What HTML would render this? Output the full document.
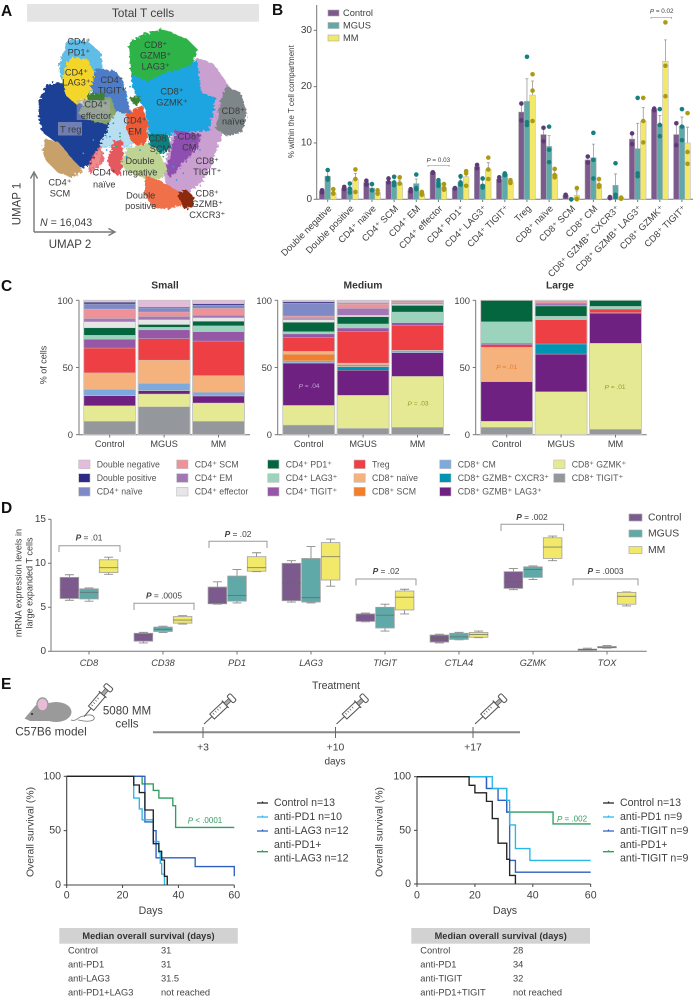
<!DOCTYPE html>
<html lang="en">
<head>
<meta charset="utf-8">
<title>T cell figure</title>
<style>
html,body{margin:0;padding:0;background:#fff}
svg{display:block;font-family:"Liberation Sans",sans-serif}
text{dominant-baseline:central;fill:#3f3f3f}
.pl{font-size:15.5px;font-weight:bold;fill:#111;dominant-baseline:auto}
.ul{font-size:9.2px;text-anchor:middle;fill:#3a3a3a}
.ttl{font-size:10.3px;font-weight:bold;text-anchor:middle;fill:#333}
.lg{font-size:8.75px;fill:#555}
.sv{font-size:10.6px;fill:#3f3f3f}
.tb{font-size:9.3px;fill:#444}
.tbh{font-size:9.2px;font-weight:bold;text-anchor:middle;fill:#333;letter-spacing:.05px}
</style>
</head>
<body>
<svg id="fig" xmlns="http://www.w3.org/2000/svg" width="695" height="999" viewBox="0 0 695 999">
<defs>
<filter id="rough" x="-10%" y="-10%" width="120%" height="120%">
<feTurbulence type="fractalNoise" baseFrequency="0.35" numOctaves="2" seed="4" result="n"/>
<feDisplacementMap in="SourceGraphic" in2="n" scale="6"/>
</filter>
<g id="syr">
<line x1="0" y1="0" x2="11" y2="0" stroke="#555" stroke-width="1"/>
<rect x="11" y="-3.4" width="18" height="6.8" fill="#fff" stroke="#555" stroke-width="1"/>
<line x1="14" y1="-2" x2="14" y2="0" stroke="#555" stroke-width=".7"/>
<line x1="17" y1="-2" x2="17" y2="0" stroke="#555" stroke-width=".7"/>
<line x1="20" y1="-2" x2="20" y2="0" stroke="#555" stroke-width=".7"/>
<line x1="23" y1="-2" x2="23" y2="0" stroke="#555" stroke-width=".7"/>
<line x1="29" y1="-5" x2="29" y2="5" stroke="#555" stroke-width="1.2"/>
<rect x="29" y="-1.8" width="6.5" height="3.6" fill="#aaa" stroke="#555" stroke-width=".7"/>
<rect x="35.5" y="-4.6" width="4.5" height="9.2" rx="1.5" fill="#fff" stroke="#555" stroke-width="1"/>
</g>
</defs>

<text class="pl" x="1" y="16">A</text>
<text class="pl" x="272" y="15">B</text>
<text class="pl" x="1" y="291">C</text>
<text class="pl" x="1" y="513">D</text>
<text class="pl" x="1" y="689">E</text>

<!-- Panel A -->
<g id="panelA">
<rect x="27" y="4" width="232" height="17.7" fill="#e4e4e4"/>
<text x="143" y="13" font-size="11.9" text-anchor="middle" fill="#444">Total T cells</text>
<g id="umapClusters"></g>
<rect x="76.7" y="100" width="33.3" height="20" fill="#a9a9c4" fill-opacity=".5"/>
<rect x="58" y="122" width="24" height="13.5" fill="#a9a9c4" fill-opacity=".6"/>
<text class="ul"><tspan x="79" y="41.7">CD4⁺</tspan><tspan x="79" y="52.7">PD1⁺</tspan></text>
<text class="ul"><tspan x="76.5" y="72.3">CD4⁺</tspan><tspan x="76.5" y="82.7">LAG3⁺</tspan></text>
<text class="ul"><tspan x="112" y="80">CD4⁺</tspan><tspan x="112" y="90.7">TIGIT⁺</tspan></text>
<text class="ul"><tspan x="96" y="104.7">CD4⁺</tspan><tspan x="96" y="116">effector</tspan></text>
<text class="ul" x="70.7" y="129.3">T reg</text>
<text class="ul"><tspan x="135" y="120.7">CD4⁺</tspan><tspan x="135" y="131.3">EM</tspan></text>
<text class="ul"><tspan x="155.7" y="45">CD8⁺</tspan><tspan x="155.7" y="55.7">GZMB⁺</tspan><tspan x="155.7" y="66.7">LAG3⁺</tspan></text>
<text class="ul"><tspan x="172" y="91.7">CD8⁺</tspan><tspan x="172" y="102.7">GZMK⁺</tspan></text>
<text class="ul"><tspan x="233.3" y="111">CD8⁺</tspan><tspan x="233.3" y="121.7">naïve</tspan></text>
<text class="ul"><tspan x="160" y="138.3">CD8⁺</tspan><tspan x="160" y="149">SCM</tspan></text>
<text class="ul"><tspan x="189.3" y="136.7">CD8⁺</tspan><tspan x="189.3" y="147.7">CM</tspan></text>
<text class="ul"><tspan x="140" y="161">Double</tspan><tspan x="140" y="172.3">negative</tspan></text>
<text class="ul"><tspan x="207.3" y="161">CD8⁺</tspan><tspan x="207.3" y="172">TIGIT⁺</tspan></text>
<text class="ul"><tspan x="140.7" y="195.3">Double</tspan><tspan x="140.7" y="206">positive</tspan></text>
<text class="ul"><tspan x="207.3" y="193.3">CD8⁺</tspan><tspan x="207.3" y="204">GZMB⁺</tspan><tspan x="207.3" y="215">CXCR3⁺</tspan></text>
<text class="ul"><tspan x="60" y="182.7">CD4⁺</tspan><tspan x="60" y="193.7">SCM</tspan></text>
<text class="ul"><tspan x="104.3" y="172.7">CD4⁺</tspan><tspan x="104.3" y="184.3">naïve</tspan></text>
<path d="M34 232V174M30.5 178.5L34 172L37.5 178.5M34 232H113M108.5 228.5L115 232L108.5 235.5" fill="none" stroke="#777" stroke-width="1.4"/>
<text x="17.5" y="204" font-size="11.5" text-anchor="middle" transform="rotate(-90 17.5 204)">UMAP 1</text>
<text x="70" y="245" font-size="11.5" text-anchor="middle">UMAP 2</text>
<text x="40" y="223" font-size="10.6"><tspan font-style="italic">N</tspan> = 16,043</text>
</g>

<!-- Panel B -->
<g id="panelB">
<text x="291.7" y="101.7" font-size="8" text-anchor="middle" transform="rotate(-90 291.7 101.7)">% within the T cell compartment</text>
<rect x="328" y="10" width="11" height="6" fill="#7d5a8e" stroke="#aaa" stroke-width=".6"/>
<text x="343" y="13" font-size="9.3" fill="#444">Control</text>
<rect x="328" y="22.5" width="11" height="6" fill="#5fa9a8" stroke="#aaa" stroke-width=".6"/>
<text x="343" y="25.5" font-size="9.3" fill="#444">MGUS</text>
<rect x="328" y="35" width="11" height="6" fill="#f2e96a" stroke="#aaa" stroke-width=".6"/>
<text x="343" y="38" font-size="9.3" fill="#444">MM</text>
<path d="M428 167V165.3H449V167" fill="none" stroke="#999" stroke-width=".7"/>
<text x="438.3" y="160.7" font-size="6.3" text-anchor="middle" fill="#555"><tspan font-style="italic">P</tspan> = 0.03</text>
<path d="M651 19V17.3H671.7V19" fill="none" stroke="#999" stroke-width=".7"/>
<text x="661.7" y="11.7" font-size="6.3" text-anchor="middle" fill="#555"><tspan font-style="italic">P</tspan> = 0.02</text>
</g>

<!-- Panel C -->
<g id="panelC">
<text class="ttl" x="165" y="286">Small</text>
<text class="ttl" x="363" y="286">Medium</text>
<text class="ttl" x="560" y="286">Large</text>
<text x="43.7" y="365" font-size="9" text-anchor="middle" transform="rotate(-90 43.7 365)">% of cells</text>
<g id="stacks"></g>
<text x="309" y="386.7" font-size="6.6" text-anchor="middle" style="fill:#c49fd6"><tspan font-style="italic">P</tspan> = .04</text>
<text x="418" y="404" font-size="6.6" text-anchor="middle" style="fill:#9a9a20"><tspan font-style="italic">P</tspan> = .03</text>
<text x="506.7" y="367.3" font-size="6.6" text-anchor="middle" style="fill:#e8792a"><tspan font-style="italic">P</tspan> = .01</text>
<text x="615" y="387.3" font-size="6.6" text-anchor="middle" style="fill:#9a9a20"><tspan font-style="italic">P</tspan> = .01</text>
<g id="stackLegend"></g>
</g>

<!-- Panel D -->
<g id="panelD">
<text font-size="9.1" text-anchor="middle" transform="rotate(-90 24 583)"><tspan x="24" y="577.5">mRNA expression levels in</tspan><tspan x="24" y="588.5">large expanded T cells</tspan></text>
<g id="boxes"></g>
<rect x="629" y="514" width="13" height="7" fill="#7d5a8e" stroke="#aaa" stroke-width=".7"/>
<text x="648" y="518" font-size="10.4" fill="#444">Control</text>
<rect x="629" y="530" width="13" height="7" fill="#5fa9a8" stroke="#aaa" stroke-width=".7"/>
<text x="648" y="534" font-size="10.4" fill="#444">MGUS</text>
<rect x="629" y="546.5" width="13" height="7" fill="#f2e96a" stroke="#aaa" stroke-width=".7"/>
<text x="648" y="550.5" font-size="10.4" fill="#444">MM</text>
<path d="M59 552V545.7H120V552" fill="none" stroke="#999"/>
<text x="89" y="537.7" font-size="8.4" text-anchor="middle"><tspan font-style="italic" font-weight="bold">P</tspan> = .01</text>
<path d="M134 610V603.3H194V610" fill="none" stroke="#999"/>
<text x="164" y="595.7" font-size="8.4" text-anchor="middle"><tspan font-style="italic" font-weight="bold">P</tspan> = .0005</text>
<path d="M209 548V541.3H267V548" fill="none" stroke="#999"/>
<text x="238" y="534" font-size="8.4" text-anchor="middle"><tspan font-style="italic" font-weight="bold">P</tspan> = .02</text>
<path d="M356 585.5V579H416V585.5" fill="none" stroke="#999"/>
<text x="386" y="571" font-size="8.4" text-anchor="middle"><tspan font-style="italic" font-weight="bold">P</tspan> = .02</text>
<path d="M501 531V524.3H563.6V531" fill="none" stroke="#999"/>
<text x="532" y="517" font-size="8.4" text-anchor="middle"><tspan font-style="italic" font-weight="bold">P</tspan> = .002</text>
<path d="M573 585.5V579H638V585.5" fill="none" stroke="#999"/>
<text x="605.5" y="571" font-size="8.4" text-anchor="middle"><tspan font-style="italic" font-weight="bold">P</tspan> = .0003</text>
</g>

<!-- Panel E schematic -->
<g id="schematic">
<g>
<path d="M71 720C77 722 78 716 84 716C94 712 98 720 90 721C84 722 80 720 78 720" fill="none" stroke="#777" stroke-width=".8"/>
<ellipse cx="56" cy="712" rx="15.5" ry="10" fill="#9a9a9a"/>
<path d="M24.5 718.5L36 705L48 706L50 721H30Z" fill="#9a9a9a"/>
<ellipse cx="42.5" cy="704.5" rx="5.5" ry="6.5" fill="#e8bcd8" stroke="#9a9a9a" stroke-width="1.4"/>
<circle cx="32" cy="714" r="1" fill="#222"/>
</g>
<use href="#syr" transform="translate(84 716.7) rotate(-50)"/>
<text x="127" y="711" font-size="11.6" text-anchor="middle">5080 MM</text>
<text x="127" y="724" font-size="11.6" text-anchor="middle">cells</text>
<text x="51" y="731.7" font-size="11.8" text-anchor="middle">C57B6 model</text>
<text x="336" y="686" font-size="10.6" text-anchor="middle">Treatment</text>
<line x1="153" y1="732.3" x2="520" y2="732.3" stroke="#888" stroke-width="2"/>
<line x1="203" y1="727" x2="203" y2="738" stroke="#666"/>
<line x1="335.5" y1="727" x2="335.5" y2="738" stroke="#666"/>
<line x1="473" y1="727" x2="473" y2="738" stroke="#666"/>
<use href="#syr" transform="translate(204 724) rotate(-43)"/>
<use href="#syr" transform="translate(336.5 724) rotate(-43)"/>
<use href="#syr" transform="translate(475 724) rotate(-43)"/>
<text x="203" y="748" font-size="10.4" text-anchor="middle">+3</text>
<text x="335.5" y="748" font-size="10.4" text-anchor="middle">+10</text>
<text x="473" y="748" font-size="10.4" text-anchor="middle">+17</text>
<text x="335" y="762" font-size="10" text-anchor="middle">days</text>
</g>

<!-- Survival -->
<g id="survLeft">
<text x="31" y="832" text-anchor="middle" transform="rotate(-90 31 832)" font-size="10.4">Overall survival (%)</text>
<text class="sv" x="150.7" y="911" text-anchor="middle">Days</text>
<text x="205" y="820.7" font-size="8" text-anchor="middle" style="fill:#2f9e5f"><tspan font-style="italic">P</tspan> &lt; .0001</text>
</g>
<g>
<path d="M257 803H268M262.5 801.5V803" stroke="#222" stroke-width="1.3" fill="none"/>
<text class="sv" x="274" y="803">Control n=13</text>
<path d="M257 817H268M262.5 815.5V817" stroke="#29b6e8" stroke-width="1.3" fill="none"/>
<text class="sv" x="274" y="817">anti-PD1 n=10</text>
<path d="M257 831H268M262.5 829.5V831" stroke="#2f5fc0" stroke-width="1.3" fill="none"/>
<text class="sv" x="274" y="831">anti-LAG3 n=12</text>
<path d="M257 851.7H268M262.5 850.2V851.7" stroke="#2f9e5f" stroke-width="1.3" fill="none"/>
<text class="sv"><tspan x="274" y="845">anti-PD1+</tspan><tspan x="274" y="858.5">anti-LAG3 n=12</tspan></text>
</g>
<g id="survRight">
<text x="380" y="832" text-anchor="middle" transform="rotate(-90 380 832)" font-size="10.4">Overall survival (%)</text>
<text class="sv" x="505" y="911" text-anchor="middle">Days</text>
<text x="572" y="819" font-size="8" text-anchor="middle" style="fill:#2f9e5f"><tspan font-style="italic">P</tspan> = .002</text>
</g>
<g>
<path d="M603 803H614M608.5 801.5V803" stroke="#222" stroke-width="1.3" fill="none"/>
<text class="sv" x="620" y="803">Control n=13</text>
<path d="M603 817H614M608.5 815.5V817" stroke="#29b6e8" stroke-width="1.3" fill="none"/>
<text class="sv" x="620" y="817">anti-PD1 n=9</text>
<path d="M603 831H614M608.5 829.5V831" stroke="#2f5fc0" stroke-width="1.3" fill="none"/>
<text class="sv" x="620" y="831">anti-TIGIT n=9</text>
<path d="M603 851.7H614M608.5 850.2V851.7" stroke="#2f9e5f" stroke-width="1.3" fill="none"/>
<text class="sv"><tspan x="620" y="845">anti-PD1+</tspan><tspan x="620" y="858.5">anti-TIGIT n=9</tspan></text>
</g>

<!-- Tables -->
<g>
<rect x="59.3" y="928" width="178.5" height="15.7" fill="#d2d2d2"/>
<text class="tbh" x="148.5" y="936">Median overall survival (days)</text>
<text class="tb" x="68" y="950.7">Control</text><text class="tb" x="161" y="950.7">31</text>
<text class="tb" x="68" y="964.7">anti-PD1</text><text class="tb" x="161" y="964.7">31</text>
<text class="tb" x="68" y="978.7">anti-LAG3</text><text class="tb" x="161" y="978.7">31.5</text>
<text class="tb" x="68" y="992.7">anti-PD1+LAG3</text><text class="tb" x="161" y="992.7">not reached</text>
</g>
<g>
<rect x="411.3" y="928" width="178.7" height="15.7" fill="#d2d2d2"/>
<text class="tbh" x="500.7" y="936">Median overall survival (days)</text>
<text class="tb" x="420.3" y="950.7">Control</text><text class="tb" x="513" y="950.7">28</text>
<text class="tb" x="420.3" y="964.7">anti-PD1</text><text class="tb" x="513" y="964.7">34</text>
<text class="tb" x="420.3" y="978.7">anti-TIGIT</text><text class="tb" x="513" y="978.7">32</text>
<text class="tb" x="420.3" y="992.7">anti-PD1+TIGIT</text><text class="tb" x="513" y="992.7">not reached</text>
</g>
</svg>

<script>
// ---------- UMAP cluster outlines (UMAP units) ----------
const umapTigit8 = [[59,72.5],[64,70.5],[68.5,64],[67,58],[66,49],[63,40],[60,35],[54.5,31],[50,33.5],[49.5,40],[52,50],[55,60]];
const umapNaive8 = [[68,63.8],[72,62],[73.8,56],[72.5,50.5],[68,49.5],[65,51.5],[66,58]];
const umapGzmk = [[39.5,70],[59,71.5],[60,62],[64.5,60.5],[62.5,51],[53,50.5],[50,49.5],[45,49],[44,57],[42,60],[40,64]];
const umapGzmbLag3 = [[39,77],[43,79.5],[49,81],[56,78],[59,75],[57,70.5],[50,68.5],[44,66],[39.5,68]];
const umapCm8 = [[53,50.5],[60,49.5],[59,46],[54.5,41],[51,37],[50,39],[51.5,44]];
const umapScm8 = [[45,49.5],[50,49.5],[51,46],[48,44],[45,45.5]];
const umapSparse = [[33.5,57],[39,57],[45,50],[38,46],[34,46],[29,46]];
const umapPd1 = [[21,78],[26,77.5],[30,74],[30.5,69.5],[28,63],[24,60],[21.5,61],[19,65],[18,70],[19,74]];
const umapTreg = [[12,60],[14.5,64.5],[19,65],[22.5,59],[33,56],[32,51],[29.5,46],[27,41],[23.5,39.5],[19.5,43],[17,47.5],[13,50.5],[11.8,55]];
const umapScm4 = [[13.5,48],[17.5,47],[21.5,42],[24.5,39],[21.5,37],[17.5,38.5],[14,42],[13,45]];
const umapNaiveSpread = [[27,41],[30,46],[31,42],[27,38]];
const umapLag3 = [[21.5,72.5],[26,72],[28.5,67],[26,61],[23,59],[20,61.5],[19,66],[19.5,69.5]];
const umapTigit4 = [[29,69],[34.5,68.5],[37,65],[38.5,58],[39,56],[34,57],[29,61],[27.5,64]];
const umapEffector = [[25.5,60],[33,60.5],[34.5,56],[32,53],[27,54],[24,56]];
const umapDarkBand = [[26.5,61.5],[31,62],[31,60],[26.5,60]];
const umapDarkBand2 = [[39,60.5],[42,61],[41,58.5]];
const umapNaive4 = [[34.5,47.5],[36.5,47.5],[36.5,40],[35.5,37.5],[33.5,39],[32.5,42]];
const umapEm = [[38.5,56],[42.5,58],[44,53],[44,48],[42,46],[39.5,48],[38,52]];
const umapDn = [[38.5,45.5],[44,46.5],[47,45],[50,39],[48,36.5],[43,37],[38,39],[36.8,41]];
const umapDp = [[44,37],[48,35.5],[54,32],[56,29],[50,27.5],[46,28],[43.5,32]];
const umapCxcr3 = [[53.5,31.5],[55.5,33],[57.8,31],[57.5,28.5],[55.5,27.5]];
const umapSpeckX = [31,33,36,35,38,39,37,42,41,47,52,63,58,55,46,30,28,25,34,40,44,49,53,60,37,38,43,36,32,45];
const umapSpeckY = [44,49,50,46,61,64,63,45,62,44,40,55,47,38,39,62,48,44,53,59,60,43,36,45,44,43,47,49,45,47];

// ---------- Panel B data ----------
const compartments = ["Double negative","Double positive","CD4⁺ naïve","CD4⁺ SCM","CD4⁺ EM","CD4⁺ effector","CD4⁺ PD1⁺","CD4⁺ LAG3⁺","CD4⁺ TIGIT⁺","Treg","CD8⁺ naïve","CD8⁺ SCM","CD8⁺ CM","CD8⁺ GZMB⁺ CXCR3⁺","CD8⁺ GZMB⁺ LAG3⁺","CD8⁺ GZMK⁺","CD8⁺ TIGIT⁺"];
const compTicks = [0,10,20,30];
const controlMean = [1.5,2,3,3.2,1.6,4.8,2,5.8,3.6,15.5,11.5,.7,7,.3,10.7,16,11.5];
const mgusMean = [4.1,1.8,2,3,2.8,2.9,3,2.6,4.5,17.4,9.4,.05,7.4,2.5,9,13.3,13];
const mmMean = [1.1,3.5,1.3,2.8,1,2,4,5.3,3.1,18.5,4.4,.7,2.7,.3,13.9,24.5,10];
const controlSd = [.3,.3,.5,.5,.3,.1,.1,.4,.4,1.7,1.2,.2,.7,.1,1,.15,2];
const mgusSd = [.9,.8,.6,.7,.8,.5,.7,.8,.2,4,1.9,0,2.4,2,4.5,1.6,1.6];
const mmSd = [.5,1.1,.3,.6,.3,.5,.8,1.2,.2,2.5,.7,.8,.7,.1,2.4,3.8,2.8];
const controlPts = [[1.2,1.6],[1.8,2.2],[2.6,3.3],[3,3.7],[1.4,1.8],[4.7,4.8],[1.9,2],[5.5,6.1],[3.3,3.9],[14,17],[10.3,12.7],[.6,.8],[6.5,7.6],[.2,.4],[9.8,11.7],[15.8,16.1],[9.6,13.5]];
const mgusPts = [[3.5,3.8,5.2],[1.2,1.9,2.8],[1.6,2.7],[2.5,3,4],[1.8,2,4.4],[2.4,3,3.4],[2.6,3,4.1],[2.1,2.4,3.7],[4.3,4.5,4.6],[13.2,13.7,25.3],[6.6,8.8,12.9],[0,0],[3.7,7,11.8],[.4,.8,6.4],[4.1,4.6,18],[11.2,13.2,16],[10.5,12.9,16]];
const mmPts = [[1,1.1,1.8],[1.3,3.6,5.3],[1,1.6],[2.8,2.8,3.9],[.8,1,1.3],[1.7,2,2.7],[2.4,4.6,5],[3.6,5.3,7.4],[2.9,3.2,3.4],[13.9,19.3,22.2],[3.9,4.3,5.4],[0,.1,2],[2.2,2.5,3.6],[.1,.2,.3],[10.1,13.9,18],[18.3,23.7,31.4],[6.3,8.4,15.3]];

// ---------- Panel C data (bottom to top of each stack) ----------
const cellTypes = ["Double negative","Double positive","CD4⁺ naïve","CD4⁺ SCM","CD4⁺ EM","CD4⁺ effector","CD4⁺ PD1⁺","CD4⁺ LAG3⁺","CD4⁺ TIGIT⁺","Treg","CD8⁺ naïve","CD8⁺ SCM","CD8⁺ CM","CD8⁺ GZMB⁺ CXCR3⁺","CD8⁺ GZMB⁺ LAG3⁺","CD8⁺ GZMK⁺","CD8⁺ TIGIT⁺"];
const cellColors = ["#e3bcdc","#2e2a85","#7f89c6","#ef9198","#a377b5","#e6e6e6","#04663f","#9bd3bd","#9557a6","#ee3f45","#f6b27c","#f47f2a","#7ea9dc","#0094b3","#6e2180","#e6e994","#94979b"];
const stackGroups = ["Control","MGUS","MM"];
const stackTicks = [0,50,100];
const smallControl = [10,11.6,7.4,.2,4.3,.5,12,18.5,6.5,3,5.5,4.5,2.5,7,3.8,1.2,1.5];
const smallMgus = [20.8,9.5,2.5,.2,5,.5,17,16,6.5,2,2,3.6,2.4,3.3,3,.7,5];
const smallMm = [10,13.6,5.2,.2,2.5,.5,12,25.7,7,4.3,3.4,2.6,2,5,2.5,1,2.5];
const mediumControl = [7.2,14.6,31.5,.2,1.5,4.8,2.2,10.2,2.8,1.7,6.9,2,1,1.7,9.7,1,1];
const mediumMgus = [4.7,24.6,18.7,2.6,.3,1.1,1.3,23.4,2.7,3,5.4,1,5.2,3.2,.8,.3,1.7];
const mediumMm = [5.5,37.9,17.6,.1,1.4,.1,.2,18.2,2.4,7.9,4.9,.8,.8,.7,.3,.5,.7];
const largeControl = [5.5,4.5,29.5,0,0,0,25.5,2,1,16,16,0,0,0,0,0,0];
const largeMgus = [0,32,28,7.5,0,0,0,18,0,2.7,7.6,.2,2,1.2,.2,.2,.4];
const largeMm = [4,64,22.5,0,0,0,.3,2.7,0,2,4.5,0,0,0,0,0,0];

// ---------- Panel D data: [min, q1, median, q3, max] ----------
const genes = ["CD8","CD38","PD1","LAG3","TIGIT","CTLA4","GZMK","TOX"];
const exprTicks = [0,5,10,15];
const controlBoxes = [[5.8,6,7,8.4,8.7],[.95,1.15,1.85,2.05,2.15],[5.35,5.4,5.5,7.3,7.9],[5.6,5.75,7.75,10,10.3],[3.35,3.4,3.85,4.25,4.35],[.95,1.05,1.45,1.85,1.95],[7,7.15,7.9,9.05,9.4],[.1,.1,.2,.25,.35]];
const mgusBoxes = [[5.7,5.95,6.7,7.1,7.2],[2.15,2.25,2.5,2.75,2.85],[5.5,5.7,6.35,8.55,9.3],[5.5,5.6,6.1,10.55,11.9],[2.3,2.65,4.1,5,5.35],[1.3,1.35,1.65,2.05,2.15],[8.15,8.4,9.3,9.6,9.7],[.35,.4,.45,.55,.65]];
const mmBoxes = [[8.75,8.95,9.5,10.4,10.7],[3.1,3.2,3.55,3.95,4.05],[9.05,9.1,9.5,10.75,11.2],[7.4,8.1,10.75,12.35,12.75],[4.25,4.7,6.15,6.85,7.05],[1.55,1.6,1.9,2.15,2.3],[10.3,10.55,11.85,12.9,13.1],[5.15,5.35,6.25,6.7,6.75]];

// ---------- Panel E survival data: [day, survival %] after each drop ----------
const survTicksX = [0,20,40,60];
const survTicksY = [0,50,100];
const leftControl = [[24,92],[26,85],[28,69],[31,38],[33,31],[34,23],[35,8],[36,0]];
const leftPd1 = [[24,80],[26,70],[27,60],[31,40],[33,30],[33.5,20],[34,10],[35,0]];
const leftLag3 = [[28,58],[31,50],[32,25],[46,17],[60,8]];
const leftCombo = [[27,93],[31,87],[33,80],[38,73],[39,53]];
const rightControl = [[18,92],[20,85],[24,77],[26,61],[28,38],[31,23],[32,8],[34,0]];
const rightPd1 = [[26,89],[31,78],[32,55],[34,33],[39,22]];
const rightTigit = [[24,89],[28,78],[31,67],[32,22],[34,11]];
const rightCombo = [[24,89],[31,67],[47,56]];

// ---------- helpers ----------
const SVGNS = "http://www.w3.org/2000/svg";
function add(parent, tag, attrs, content) {
  const el = document.createElementNS(SVGNS, tag);
  for (const k in attrs) el.setAttribute(k, attrs[k]);
  if (content !== undefined) el.textContent = content;
  parent.appendChild(el);
  return el;
}
const fig = document.getElementById("fig");
const groupColors = ["#7d5a8e","#5fa9a8","#f2e96a"];
const dotColors = ["#5e3a78","#17807f","#ad9a12"];

// ---------- Panel A ----------
const umapX = u => u * 10 / 3;
const umapY = v => (90 - v) * 10 / 3;
const umapLayers = [
  [umapTigit8,"#c9a0d0",1],[umapNaive8,"#7f8689",1],[umapGzmk,"#1ea5e0",1],[umapCm8,"#8e4fb0",1],
  [umapScm8,"#0f7f80",1],[umapGzmbLag3,"#2fb34a",1],[umapSparse,"#7cc4e6",.55],[umapPd1,"#5fbde8",1],
  [umapTreg,"#1f3f95",1],[umapScm4,"#c7a06a",1],[umapNaiveSpread,"#e5585e",.7],[umapLag3,"#f4d52a",1],
  [umapTigit4,"#4f7cc6",1],[umapEffector,"#8aa56a",.95],[umapDarkBand,"#3f7f35",1],[umapDarkBand2,"#3f7f35",1],
  [umapNaive4,"#e5585e",1],[umapEm,"#ee5a35",1],[umapDn,"#bfd494",1],[umapDp,"#f0704a",1],[umapCxcr3,"#8b2a10",1]
];
const umapRoot = document.getElementById("umapClusters");
umapLayers.forEach(layer => {
  const poly = add(umapRoot, "polygon", {
    points: layer[0].map(p => umapX(p[0]).toFixed(1) + "," + umapY(p[1]).toFixed(1)).join(" "),
    fill: layer[1], stroke: layer[1], "stroke-width": 2, "stroke-linejoin": "round",
    "fill-opacity": layer[2], "stroke-opacity": layer[2], filter: "url(#rough)"
  });
  
  
});
umapSpeckX.forEach((u, i) => {
  const speck = add(umapRoot, "circle", {cx: umapX(u), cy: umapY(umapSpeckY[i]), r: .9, fill: i % 3 ? "#1ea5e0" : "#2fb34a"});
  
  
});

// ---------- shared axis helpers ----------
function yAxis(parent, ticks, scale, x, labelX, top, bottom, size, len) {
  const axis = add(parent, "line", {x1: x, y1: top, x2: x, y2: bottom, stroke: "#777", "stroke-width": 1});
  
  
  ticks.forEach(t => {
    const tick = add(parent, "line", {x1: x - len, y1: scale(t), x2: x, y2: scale(t), stroke: "#777", "stroke-width": 1});
    
    
    const lab = add(parent, "text", {x: labelX, y: scale(t), "font-size": size, "text-anchor": "end"}, t);
    
    
  });
}

// ---------- Panel B ----------
const panelB = document.getElementById("panelB");
const bY = v => 199.3 - 5.633 * v;
const bX = i => 327.7 + i * 22.14;
const bMeans = [controlMean, mgusMean, mmMean];
const bSds = [controlSd, mgusSd, mmSd];
const bPts = [controlPts, mgusPts, mmPts];
yAxis(panelB, compTicks, bY, 316.7, 312, 5, 199.3, 10, 3);
const bBase = add(panelB, "line", {x1: 316.7, y1: 199.3, x2: 693, y2: 199.3, stroke: "#777", "stroke-width": 1});


compartments.forEach((name, i) => {
  const cx = bX(i);
  const tick = add(panelB, "line", {x1: cx, y1: 199.3, x2: cx, y2: 202, stroke: "#777"});
  
  
  const lab = add(panelB, "text", {x: cx + 2.5, y: 207, "font-size": 9.3, "text-anchor": "end", transform: "rotate(-45 " + (cx + 2.5) + " 207)"}, name);
  
  
  bMeans.forEach((series, g) => {
    const gx = cx + (g - 1) * 5.6;
    const bar = add(panelB, "rect", {x: gx - 2.8, y: bY(series[i]), width: 5.6, height: 199.3 - bY(series[i]), fill: groupColors[g], stroke: "#b4b4b4", "stroke-width": .5});
    
    
    const top = series[i] + bSds[g][i];
    const err = add(panelB, "path", {d: "M" + gx + " " + bY(series[i]) + "V" + bY(top) + "m-1.5 0h3", stroke: "#999", "stroke-width": .8, fill: "none"});
    
    
    bPts[g][i].forEach(v => {
      const dot = add(panelB, "circle", {cx: gx, cy: bY(v), r: 2.3, fill: dotColors[g]});
      
      
    });
  });
});

// ---------- Panel C ----------
const stackRoot = document.getElementById("stacks");
const sY = v => 434.7 - 1.344 * v;
function drawStacks(series, axisX, labelX, firstBar, endX) {
  yAxis(stackRoot, stackTicks, sY, axisX, labelX, 300.3, 434.7, 9.4, 3);
  const base = add(stackRoot, "line", {x1: axisX, y1: 434.7, x2: endX, y2: 434.7, stroke: "#777"});
  
  
  series.forEach((vals, b) => {
    const bx = firstBar + b * 54.4;
    let cum = 0;
    vals.forEach((v, k) => {
      if (v > 0) {
        const seg = add(stackRoot, "rect", {x: bx, y: sY(cum + v), width: 52, height: sY(cum) - sY(cum + v), fill: cellColors[16 - k], stroke: "#c4c4c4", "stroke-width": .35});
        
        
      }
      cum += v;
    });
    const frame = add(stackRoot, "rect", {x: bx, y: sY(100), width: 52, height: 134.4, fill: "none", stroke: "#c6c6c6", "stroke-width": .9});
    
    
    const tick = add(stackRoot, "line", {x1: bx + 26, y1: 434.7, x2: bx + 26, y2: 437.5, stroke: "#777"});
    
    
    const lab = add(stackRoot, "text", {x: bx + 26, y: 444, "font-size": 9.2, "text-anchor": "middle"}, stackGroups[b]);
    
    
  });
}
drawStacks([smallControl, smallMgus, smallMm], 79, 73, 83.7, 250);
drawStacks([mediumControl, mediumMgus, mediumMm], 277.7, 272, 282.7, 450);
drawStacks([largeControl, largeMgus, largeMm], 475.7, 470, 480.7, 646.7);

const legendRoot = document.getElementById("stackLegend");
cellTypes.forEach((name, i) => {
  const col = Math.floor(i / 3);
  const row = i % 3;
  const sx = [78.7, 176.7, 267.7, 354, 439.7, 553.7][col];
  const sy = 464.3 + row * 13.7;
  const sw = add(legendRoot, "rect", {x: sx, y: sy - 4.3, width: 11.3, height: 8.6, fill: cellColors[i], stroke: "#bbb", "stroke-width": .6});
  
  
  const lab = add(legendRoot, "text", {x: sx + 18, y: sy, class: "lg"}, name);
  
  
});

// ---------- Panel D ----------
const boxRoot = document.getElementById("boxes");
const dY = v => 651.3 - 8.8 * v;
const dX = i => 89 + i * 74;
const boxSeries = [controlBoxes, mgusBoxes, mmBoxes];
yAxis(boxRoot, exprTicks, dY, 51, 46, 519.3, 651.3, 10, 3);
const dBase = add(boxRoot, "line", {x1: 51, y1: 651.3, x2: 646.7, y2: 651.3, stroke: "#777"});


genes.forEach((gene, i) => {
  const tick = add(boxRoot, "line", {x1: dX(i), y1: 651.3, x2: dX(i), y2: 654.5, stroke: "#777"});
  
  
  const lab = add(boxRoot, "text", {x: dX(i), y: 663, "font-size": 9.2, "font-style": "italic", "text-anchor": "middle"}, gene);
  
  
  boxSeries.forEach((series, g) => {
    const s = series[i];
    const cx = dX(i) + (g - 1) * 19.6;
    const whisk = add(boxRoot, "path", {d: "M" + cx + " " + dY(s[0]) + "V" + dY(s[1]) + "M" + cx + " " + dY(s[3]) + "V" + dY(s[4]) + "M" + (cx - 4.5) + " " + dY(s[0]) + "h9M" + (cx - 4.5) + " " + dY(s[4]) + "h9", stroke: "#8a8a8a", "stroke-width": .9, fill: "none"});
    
    
    const box = add(boxRoot, "rect", {x: cx - 9.3, y: dY(s[3]), width: 18.6, height: dY(s[1]) - dY(s[3]), fill: groupColors[g], stroke: "#a0a0a0", "stroke-width": .8});
    
    
    const med = add(boxRoot, "line", {x1: cx - 9.3, y1: dY(s[2]), x2: cx + 9.3, y2: dY(s[2]), stroke: "#666", "stroke-width": .9, "stroke-opacity": .8});
    
    
  });
});

// ---------- Panel E survival ----------
function drawSurvival(parent, x, y, labelX, curves, colors) {
  curves.forEach((curve, c) => {
    let d = "M" + x(0) + " " + y(100);
    curve.forEach(step => { d += "H" + x(step[0]) + "V" + y(step[1]); });
    if (curve[curve.length - 1][1] > 0) d += "H" + x(60);
    const line = add(parent, "path", {d: d, fill: "none", stroke: colors[c], "stroke-width": 1.35});
    
    
  });
  const xBase = add(parent, "path", {d: "M" + x(0) + " " + y(100) + "V" + y(0) + "H" + x(60), fill: "none", stroke: "#444", "stroke-width": 1.1});
  
  
  survTicksX.forEach(t => {
    const tick = add(parent, "line", {x1: x(t), y1: y(0), x2: x(t), y2: y(0) + 3, stroke: "#444"});
    
    
    const lab = add(parent, "text", {x: x(t), y: 895.7, "text-anchor": "middle", class: "sv"}, t);
    
    
  });
  survTicksY.forEach(t => {
    const tick = add(parent, "line", {x1: x(0) - 3, y1: y(t), x2: x(0), y2: y(t), stroke: "#444"});
    
    
    const lab = add(parent, "text", {x: labelX, y: y(t), "text-anchor": "end", class: "sv"}, t);
    
    
  });
}
const survColors = ["#2f9e5f","#2f5fc0","#29b6e8","#222222"];
drawSurvival(document.getElementById("survLeft"), d => 66.7 + d * 2.793, s => 885 - s * 1.087, 61, [leftCombo, leftLag3, leftPd1, leftControl], survColors);
drawSurvival(document.getElementById("survRight"), d => 417 + d * 2.895, s => 884 - s * 1.073, 411, [rightCombo, rightTigit, rightPd1, rightControl], survColors);
</script>
</body>
</html>
